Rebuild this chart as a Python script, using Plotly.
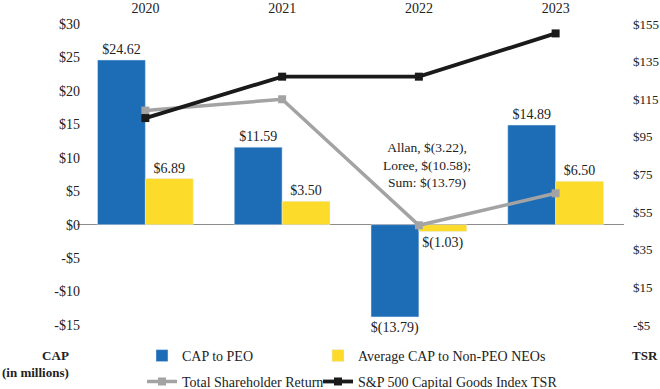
import plotly.graph_objects as go

years = ["2020", "2021", "2022", "2023"]
cap_peo = [24.62, 11.59, -13.79, 14.89]
cap_neo = [6.89, 3.50, -1.03, 6.50]
tsr = [109, 115, 48, 65]
sp500_tsr = [105, 127, 127, 150]

left_ticks = [30, 25, 20, 15, 10, 5, 0, -5, -10, -15]
left_tick_labels = ["$30", "$25", "$20", "$15", "$10", "$5", "$0", "-$5", "-$10", "-$15"]
right_ticks = [155, 135, 115, 95, 75, 55, 35, 15, -5]
right_tick_labels = ["$155", "$135", "$115", "$95", "$75", "$55", "$35", "$15", "-$5"]

note_year = "2022"
note_2022 = "Allan, $(3.22),<br>Loree, $(10.58);<br>Sum: $(13.79)"

def money(v):
    return f"$({abs(v):.2f})" if v < 0 else f"${v:.2f}"

FONT = "'Liberation Serif', 'Times New Roman', serif"
FS = 14
BLUE = "#1c6cb6"
YELLOW = "#fddb2a"
GRAY = "#a3a3a3"
BLACK = "#1a1a1a"
TXT = "#222222"

fig = go.Figure()
fig.add_trace(go.Bar(
    x=years, y=cap_peo, name="CAP to PEO", marker_color=BLUE,
    text=[money(v) for v in cap_peo], textposition="outside",
    textfont=dict(family=FONT, size=FS, color=TXT),
    cliponaxis=False, constraintext="none",
    offsetgroup="a", legend="legend",
))
fig.add_trace(go.Bar(
    x=years, y=cap_neo, name="Average CAP to Non-PEO NEOs", marker_color=YELLOW,
    text=[money(v) for v in cap_neo], textposition="outside",
    textfont=dict(family=FONT, size=FS, color=TXT),
    cliponaxis=False, constraintext="none",
    offsetgroup="b", legend="legend2",
))
fig.add_trace(go.Scatter(
    x=years, y=tsr, name="Total Shareholder Return", yaxis="y2",
    mode="lines+markers", line=dict(color=GRAY, width=3.5),
    marker=dict(symbol="square", size=8, color=GRAY),
    legend="legend3",
))
fig.add_trace(go.Scatter(
    x=years, y=sp500_tsr, name="S&P 500 Capital Goods Index TSR", yaxis="y2",
    mode="lines+markers", line=dict(color=BLACK, width=3.8),
    marker=dict(symbol="square", size=8, color=BLACK),
    legend="legend4",
))

leg_common = dict(orientation="h", xanchor="left", yanchor="middle",
                  font=dict(family=FONT, size=FS, color=TXT),
                  bgcolor="rgba(0,0,0,0)")

fig.update_layout(
    width=660, height=389,
    margin=dict(l=77, r=36, t=24, b=64, autoexpand=False),
    paper_bgcolor="white", plot_bgcolor="white",
    font=dict(family=FONT, size=FS, color=TXT),
    barmode="group", bargap=0.3,
    xaxis=dict(type="category", categoryorder="array", categoryarray=years,
               range=[-0.5, 3.5], side="top", showgrid=False, showline=False,
               ticks="", tickfont=dict(size=FS), automargin=False,
               ticklabelstandoff=7),
    yaxis=dict(range=[-15, 30], tickvals=left_ticks, ticktext=left_tick_labels,
               showgrid=False, zeroline=True, zerolinecolor="#8c8c8c",
               zerolinewidth=1, showline=False, ticks="", automargin=False,
               ticklabelstandoff=-4, tickfont=dict(size=FS)),
    yaxis2=dict(range=[-5, 155], tickvals=right_ticks, ticktext=right_tick_labels,
                overlaying="y", side="right", showgrid=False, zeroline=False,
                showline=False, ticks="", automargin=False, ticklabelstandoff=8,
                tickfont=dict(size=13)),
    legend=dict(x=0.1188, y=-0.103, **leg_common),
    legend2=dict(x=0.4406, y=-0.103, **leg_common),
    legend3=dict(x=0.1188, y=-0.189, **leg_common),
    legend4=dict(x=0.4406, y=-0.189, **leg_common),
    showlegend=True,
)

fig.add_annotation(x=years.index(note_year), y=8.9, xref="x", yref="y", text=note_2022,
                   showarrow=False, xshift=8, yanchor="middle", align="center",
                   font=dict(family=FONT, size=13.5, color=TXT))
fig.add_annotation(x=0, y=-0.128, xref="paper", yref="paper",
                   text="<b>CAP</b><br><b>(in millions)</b>", showarrow=False,
                   xanchor="right", xshift=-6, yanchor="middle", align="right",
                   font=dict(family=FONT, size=13, color=TXT))
fig.add_annotation(x=1, y=-0.1, xref="paper", yref="paper",
                   text="<b>TSR</b>", showarrow=False,
                   xanchor="left", xshift=6, yanchor="middle", align="left",
                   font=dict(family=FONT, size=13, color=TXT))

# remove the browser's default 8px body margin so the figure sits at the page origin
fig.write_html("out.html", config={"displayModeBar": False},
               post_script="document.body.style.margin='0px';")
